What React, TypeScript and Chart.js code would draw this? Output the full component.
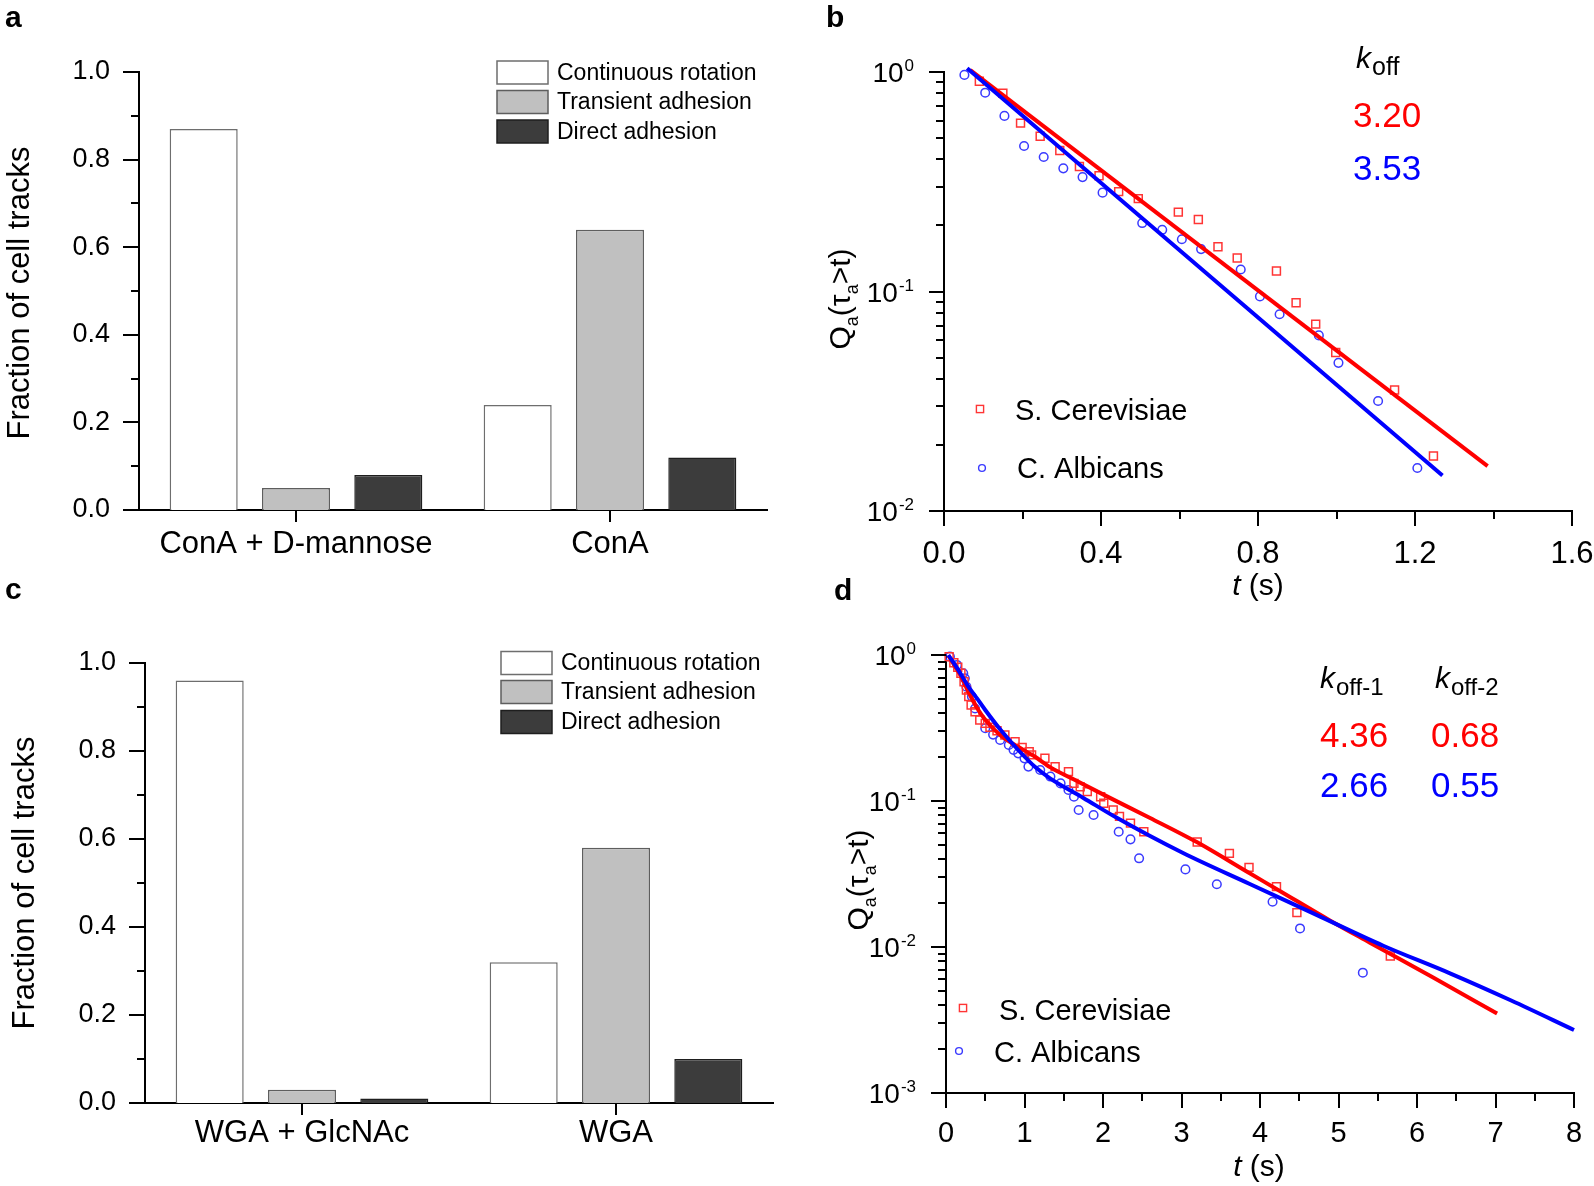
import React, { useEffect, useRef } from "react";
import { Chart, registerables } from "chart.js";

Chart.register(...registerables);

const PAGE_W = 1594;
const PAGE_H = 1186;
const FONT = 'Arial, "Liberation Sans", Helvetica, sans-serif';
const RED = "#ff0000";
const BLUE = "#0000ff";
const RED_PT = "#ff3535";
const BLUE_PT = "#3a3aff";

// ---------- Panel a (ConA) ----------
const categoriesA = ["ConA + D-mannose", "ConA"];
const continuousA = [0.87, 0.24];
const transientA = [0.05, 0.64];
const directA = [0.08, 0.12];

// ---------- Panel c (WGA) ----------
const categoriesC = ["WGA + GlcNAc", "WGA"];
const continuousC = [0.96, 0.32];
const transientC = [0.03, 0.58];
const directC = [0.01, 0.1];

const barLegendLabels = ["Continuous rotation", "Transient adhesion", "Direct adhesion"];
const barMajorTicks = [0, 0.2, 0.4, 0.6, 0.8, 1.0];
const barMinorTicks = [0.1, 0.3, 0.5, 0.7, 0.9];

// ---------- Panel b (single exponential) ----------
const bCerevisiaeT = [0.09, 0.15, 0.195, 0.245, 0.295, 0.345, 0.395, 0.445, 0.495, 0.597, 0.648, 0.698, 0.747, 0.847, 0.897, 0.947, 0.998, 1.148, 1.247];
const bCerevisiaeQ = [0.908, 0.8, 0.585, 0.51, 0.439, 0.371, 0.337, 0.285, 0.265, 0.23, 0.213, 0.16, 0.142, 0.124, 0.0888, 0.071, 0.0527, 0.0356, 0.0178];
const bAlbicansT = [0.052, 0.105, 0.154, 0.204, 0.254, 0.304, 0.353, 0.404, 0.505, 0.556, 0.606, 0.655, 0.756, 0.805, 0.855, 0.955, 1.005, 1.106, 1.206];
const bAlbicansQ = [0.97, 0.805, 0.631, 0.46, 0.41, 0.364, 0.332, 0.282, 0.205, 0.191, 0.173, 0.156, 0.126, 0.095, 0.0788, 0.0631, 0.0473, 0.0317, 0.0157];
const bCerevisiaeFitT = [0.067, 1.385];
const bCerevisiaeFitQ = [1.02, 0.016];
const bAlbicansFitT = [0.059, 1.27];
const bAlbicansFitQ = [1.04, 0.0145];
const bXMajor = [0, 0.4, 0.8, 1.2, 1.6];
const bXMinor = [0.2, 0.6, 1.0, 1.4];
const bYMajor = [1, 0.1, 0.01];
const bKoff = ["3.20", "3.53"];

// ---------- Panel d (double exponential) ----------
const dCerevisiaeT = [0.04, 0.1, 0.15, 0.19, 0.23, 0.26, 0.29, 0.32, 0.37, 0.43, 0.5, 0.56, 0.65, 0.75, 0.88, 0.97, 1.06, 1.09, 1.26, 1.39, 1.56, 1.63, 1.71, 1.8, 1.97, 2.01, 2.13, 2.21, 2.35, 2.52, 3.2, 3.61, 3.86, 4.21, 4.47, 5.66];
const dCerevisiaeQ = [0.974, 0.885, 0.824, 0.749, 0.656, 0.575, 0.519, 0.455, 0.409, 0.359, 0.34, 0.32, 0.303, 0.283, 0.255, 0.233, 0.218, 0.207, 0.196, 0.172, 0.159, 0.132, 0.125, 0.116, 0.107, 0.0965, 0.0868, 0.0785, 0.0705, 0.0616, 0.0524, 0.0438, 0.0351, 0.0259, 0.0172, 0.00867];
const dAlbicansT = [0.05, 0.14, 0.22, 0.24, 0.26, 0.33, 0.37, 0.5, 0.6, 0.69, 0.8, 0.86, 0.92, 1.0, 1.05, 1.2, 1.33, 1.46, 1.56, 1.63, 1.69, 1.88, 2.2, 2.35, 2.46, 3.05, 3.45, 4.16, 4.51, 5.31];
const dAlbicansQ = [0.974, 0.855, 0.75, 0.692, 0.607, 0.519, 0.43, 0.315, 0.285, 0.262, 0.242, 0.224, 0.212, 0.196, 0.172, 0.163, 0.147, 0.132, 0.119, 0.107, 0.0868, 0.0802, 0.0616, 0.0546, 0.0405, 0.034, 0.0269, 0.0204, 0.0134, 0.00667];
const dCerevisiaeFitT = [0.03, 0.12, 0.2, 0.285, 0.4, 0.5, 0.7, 0.92, 1.14, 1.33, 1.6, 2.0, 2.6, 3.2, 3.88, 4.22, 4.89, 5.4, 6.2, 7.02];
const dCerevisiaeFitQ = [0.99, 0.83, 0.7, 0.56, 0.43, 0.36, 0.28, 0.235, 0.2, 0.17, 0.143, 0.111, 0.0765, 0.0521, 0.0317, 0.0248, 0.0152, 0.0107, 0.0062, 0.0035];
const dAlbicansFitT = [0.03, 0.15, 0.285, 0.4, 0.5, 0.71, 0.92, 1.14, 1.325, 1.75, 2.17, 3.02, 3.87, 4.72, 5.57, 6.42, 7.2, 8.0];
const dAlbicansFitQ = [1.0, 0.8, 0.607, 0.5, 0.42, 0.3, 0.2235, 0.17, 0.143, 0.105, 0.077, 0.044, 0.027, 0.0166, 0.0102, 0.0066, 0.0043, 0.0027];
const dXMajor = [0, 1, 2, 3, 4, 5, 6, 7, 8];
const dXMinor = [0.5, 1.5, 2.5, 3.5, 4.5, 5.5, 6.5, 7.5];
const dYMajor = [1, 0.1, 0.01, 0.001];
const dKoff1 = ["4.36", "2.66"];
const dKoff2 = ["0.68", "0.55"];

const speciesLabels = ["S. Cerevisiae", "C. Albicans"];

// ---------- helpers ----------
function logMinors(majors: number[]) {
  const out: number[] = [];
  const sorted = [...majors].sort((a, b) => a - b);
  for (let i = 0; i < sorted.length - 1; i++) {
    for (let m = 2; m <= 9; m++) out.push(sorted[i] * m);
  }
  return out;
}

function xy(ts: number[], qs: number[]) {
  return ts.map((t, i) => ({ x: t, y: qs[i] }));
}

function ticksY(ctx: any, scale: any, axisX: number, values: number[], len: number) {
  ctx.beginPath();
  values.forEach((v) => {
    const y = Math.round(scale.getPixelForValue(v));
    ctx.moveTo(axisX - len, y);
    ctx.lineTo(axisX, y);
  });
  ctx.stroke();
}

function ticksX(ctx: any, scale: any, axisY: number, values: number[], len: number) {
  ctx.beginPath();
  values.forEach((v) => {
    const x = Math.round(scale.getPixelForValue(v));
    ctx.moveTo(x, axisY);
    ctx.lineTo(x, axisY + len);
  });
  ctx.stroke();
}

function powerLabels(ctx: any, scale: any, axisX: number, values: number[], gap: number, size: number, expSize: number) {
  values.forEach((v) => {
    const y = scale.getPixelForValue(v);
    const exp = String(Math.round(Math.log10(v)));
    ctx.font = `${expSize}px ${FONT}`;
    const ew = ctx.measureText(exp).width;
    const right = axisX - gap;
    ctx.textAlign = "left";
    ctx.textBaseline = "alphabetic";
    ctx.fillText(exp, right - ew, y - 1);
    ctx.font = `${size}px ${FONT}`;
    ctx.textAlign = "right";
    ctx.fillText("10", right - ew - 1, y + 10);
  });
}

function drawRotated(ctx: any, text: string, baseX: number, centerY: number, size: number) {
  ctx.save();
  ctx.translate(baseX, centerY);
  ctx.rotate(-Math.PI / 2);
  ctx.font = `${size}px ${FONT}`;
  ctx.textAlign = "center";
  ctx.textBaseline = "alphabetic";
  ctx.fillText(text, 0, 0);
  ctx.restore();
}

function drawQTitle(ctx: any, baseX: number, centerY: number, size: number) {
  const sub = Math.round(size * 0.6);
  const parts: [string, number, number][] = [
    ["Q", size, 0],
    ["a", sub, size * 0.27],
    ["(", size, 0],
    ["\u03c4", size, 0],
    ["a", sub, size * 0.27],
    [">t)", size, 0],
  ];
  ctx.save();
  ctx.translate(baseX, centerY);
  ctx.rotate(-Math.PI / 2);
  ctx.textAlign = "left";
  ctx.textBaseline = "alphabetic";
  const widths = parts.map(([t, s]) => {
    ctx.font = `${s}px ${FONT}`;
    return ctx.measureText(t).width;
  });
  const total = widths.reduce((a, b) => a + b, 0);
  let x = -total / 2;
  parts.forEach(([t, s, dy], i) => {
    ctx.font = `${s}px ${FONT}`;
    ctx.fillText(t, x, dy);
    x += widths[i];
  });
  ctx.restore();
}

function drawTTitle(ctx: any, centerX: number, baseline: number, size: number) {
  ctx.textBaseline = "alphabetic";
  ctx.textAlign = "left";
  ctx.font = `italic ${size}px ${FONT}`;
  const w1 = ctx.measureText("t").width;
  ctx.font = `${size}px ${FONT}`;
  const w2 = ctx.measureText(" (s)").width;
  const x0 = centerX - (w1 + w2) / 2;
  ctx.font = `italic ${size}px ${FONT}`;
  ctx.fillText("t", x0, baseline);
  ctx.font = `${size}px ${FONT}`;
  ctx.fillText(" (s)", x0 + w1, baseline);
}

function drawK(ctx: any, x: number, baseline: number, sub: string, size: number, subSize: number) {
  ctx.textAlign = "left";
  ctx.textBaseline = "alphabetic";
  ctx.fillStyle = "#000";
  ctx.font = `italic ${size}px ${FONT}`;
  const w = ctx.measureText("k").width;
  ctx.fillText("k", x, baseline);
  ctx.font = `${subSize}px ${FONT}`;
  ctx.fillText(sub, x + w + 1, baseline + 7);
}

function drawText(ctx: any, text: string, x: number, baseline: number, size: number, color: string, weight = "") {
  ctx.textAlign = "left";
  ctx.textBaseline = "alphabetic";
  ctx.fillStyle = color;
  ctx.font = `${weight} ${size}px ${FONT}`.trim();
  ctx.fillText(text, x, baseline);
}

function squareMarker(ctx: any, x: number, y: number, half: number, color: string) {
  ctx.strokeStyle = color;
  ctx.lineWidth = 1.4;
  ctx.strokeRect(x - half, y - half, half * 2, half * 2);
}

function circleMarker(ctx: any, x: number, y: number, r: number, color: string) {
  ctx.strokeStyle = color;
  ctx.lineWidth = 1.4;
  ctx.beginPath();
  ctx.arc(x, y, r, 0, Math.PI * 2);
  ctx.stroke();
}

const BAR_STYLES = [
  { bg: "#ffffff", border: "#6e6e6e" },
  { bg: "#c0c0c0", border: "#5e5e5e" },
  { bg: "#3c3c3c", border: "#1e1e1e" },
];

type Area = { left: number; top: number; right: number; bottom: number };

function axisCommon() {
  return {
    grid: { display: false, drawTicks: false },
    border: { display: true, color: "#000", width: 2 },
  };
}

function fitX(area: Area) {
  return (s: any) => {
    s.height = PAGE_H - area.bottom;
    s.paddingLeft = 0;
    s.paddingRight = 0;
  };
}

function fitY(area: Area) {
  return (s: any) => {
    s.width = area.left;
    s.paddingTop = 0;
    s.paddingBottom = 0;
  };
}

function barConfig(cats: string[], cont: number[], trans: number[], direct: number[], area: Area, catPad: number, decor: any) {
  const series = [cont, trans, direct];
  return {
    type: "bar",
    data: {
      labels: cats,
      datasets: series.map((d, i) => ({
        label: barLegendLabels[i],
        data: d,
        backgroundColor: BAR_STYLES[i].bg,
        borderColor: BAR_STYLES[i].border,
        borderWidth: 1.5,
        categoryPercentage: 0.882,
        barPercentage: 0.737,
      })),
    },
    options: {
      responsive: false,
      animation: false,
      devicePixelRatio: 1,
      layout: { padding: { left: 0, top: area.top, right: PAGE_W - area.right, bottom: 0 } },
      plugins: { legend: { display: false }, tooltip: { enabled: false } },
      scales: {
        x: {
          ...axisCommon(),
          ticks: { font: { family: FONT, size: 31 }, color: "#000", padding: catPad, maxRotation: 0, autoSkip: false },
          afterFit: fitX(area),
        },
        y: {
          ...axisCommon(),
          min: 0,
          max: 1,
          afterBuildTicks: (s: any) => {
            s.ticks = barMajorTicks.map((v) => ({ value: v }));
          },
          ticks: {
            font: { family: FONT, size: 27 },
            color: "#000",
            padding: 29,
            callback: (v: any) => Number(v).toFixed(1),
          },
          afterFit: fitY(area),
        },
      },
    },
    plugins: [decor],
  };
}

function barDecor(id: string, letter: string, letterY: number, titleX: number, titleY: number, legendX: number, legendYs: number[]) {
  return {
    id,
    afterDraw(chart: any) {
      const ctx = chart.ctx;
      const { left, bottom } = chart.chartArea;
      const xs = chart.scales.x;
      const ys = chart.scales.y;
      ctx.save();
      ctx.strokeStyle = "#000";
      ctx.lineWidth = 2;
      ticksY(ctx, ys, left, barMajorTicks, 16);
      ticksY(ctx, ys, left, barMinorTicks, 8);
      ticksX(ctx, xs, bottom, [0, 1], 12);
      ctx.fillStyle = "#000";
      drawRotated(ctx, "Fraction of cell tracks", titleX, titleY, 31);
      legendYs.forEach((cy, i) => {
        ctx.fillStyle = BAR_STYLES[i].bg;
        ctx.fillRect(legendX, cy - 11.5, 51, 23);
        ctx.strokeStyle = BAR_STYLES[i].border;
        ctx.lineWidth = 1.5;
        ctx.strokeRect(legendX, cy - 11.5, 51, 23);
        ctx.fillStyle = "#000";
        ctx.font = `23px ${FONT}`;
        ctx.textAlign = "left";
        ctx.textBaseline = "middle";
        ctx.fillText(barLegendLabels[i], legendX + 60, cy + 1);
      });
      drawText(ctx, letter, 5, letterY, 30, "#000", "bold");
      ctx.restore();
    },
  };
}

function survivalConfig(p: any) {
  const area: Area = p.area;
  return {
    type: "line",
    data: {
      datasets: [
        {
          label: speciesLabels[1] + " fit",
          data: xy(p.albFitT, p.albFitQ),
          borderColor: BLUE,
          borderWidth: 4,
          pointRadius: 0,
          showLine: true,
          cubicInterpolationMode: "monotone",
          clip: false,
          order: 0,
        },
        {
          label: speciesLabels[0] + " fit",
          data: xy(p.cerFitT, p.cerFitQ),
          borderColor: RED,
          borderWidth: 4,
          pointRadius: 0,
          showLine: true,
          cubicInterpolationMode: "monotone",
          clip: false,
          order: 1,
        },
        {
          label: speciesLabels[0],
          data: xy(p.cerT, p.cerQ),
          showLine: false,
          pointStyle: "rect",
          pointRadius: 5.6,
          pointBorderWidth: 1.5,
          pointBorderColor: RED_PT,
          pointBackgroundColor: "rgba(0,0,0,0)",
          borderColor: RED_PT,
          clip: false,
          order: 2,
        },
        {
          label: speciesLabels[1],
          data: xy(p.albT, p.albQ),
          showLine: false,
          pointStyle: "circle",
          pointRadius: 4.3,
          pointBorderWidth: 1.5,
          pointBorderColor: BLUE_PT,
          pointBackgroundColor: "rgba(0,0,0,0)",
          borderColor: BLUE_PT,
          clip: false,
          order: 2,
        },
      ],
    },
    options: {
      responsive: false,
      animation: false,
      devicePixelRatio: 1,
      layout: { padding: { left: 0, top: area.top, right: PAGE_W - area.right, bottom: 0 } },
      plugins: { legend: { display: false }, tooltip: { enabled: false } },
      scales: {
        x: {
          type: "linear",
          ...axisCommon(),
          min: p.xMajor[0],
          max: p.xMajor[p.xMajor.length - 1],
          afterBuildTicks: (s: any) => {
            s.ticks = p.xMajor.map((v: number) => ({ value: v }));
          },
          ticks: {
            font: { family: FONT, size: p.xFont },
            color: "#000",
            padding: p.xPad,
            maxRotation: 0,
            autoSkip: false,
            callback: p.xFmt,
          },
          afterFit: fitX(area),
        },
        y: {
          type: "logarithmic",
          ...axisCommon(),
          min: p.yMajor[p.yMajor.length - 1],
          max: p.yMajor[0],
          ticks: { display: false },
          afterFit: fitY(area),
        },
      },
    },
    plugins: [p.decor],
  };
}

function survivalDecor(p: any) {
  return {
    id: p.id,
    afterDraw(chart: any) {
      const ctx = chart.ctx;
      const { left, bottom } = chart.chartArea;
      const xs = chart.scales.x;
      const ys = chart.scales.y;
      ctx.save();
      ctx.strokeStyle = "#000";
      ctx.lineWidth = 2;
      ticksY(ctx, ys, left, p.yMajor, 15);
      ticksY(ctx, ys, left, logMinors(p.yMajor), 8);
      ticksX(ctx, xs, bottom, p.xMajor, 15);
      ticksX(ctx, xs, bottom, p.xMinor, 8);
      ctx.fillStyle = "#000";
      powerLabels(ctx, ys, left, p.yMajor, 30, 28, 17);
      drawQTitle(ctx, p.qX, p.qY, 30);
      drawTTitle(ctx, p.tX, p.tY, 30);
      squareMarker(ctx, p.leg[0][0], p.leg[0][1], 3.6, RED_PT);
      drawText(ctx, speciesLabels[0], p.leg[0][2], p.leg[0][3], 29, "#000");
      circleMarker(ctx, p.leg[1][0], p.leg[1][1], 3.4, BLUE_PT);
      drawText(ctx, speciesLabels[1], p.leg[1][2], p.leg[1][3], 29, "#000");
      p.annot(ctx);
      drawText(ctx, p.letter, p.letterX, p.letterY, 30, "#000", "bold");
      ctx.restore();
    },
  };
}

const areaA: Area = { left: 139, top: 72, right: 767, bottom: 510 };
const areaC: Area = { left: 145, top: 663, right: 773, bottom: 1103 };
const areaB: Area = { left: 944, top: 72, right: 1572, bottom: 511 };
const areaD: Area = { left: 946, top: 655, right: 1574, bottom: 1093 };

export default function App() {
  const refA = useRef<HTMLCanvasElement>(null);
  const refB = useRef<HTMLCanvasElement>(null);
  const refC = useRef<HTMLCanvasElement>(null);
  const refD = useRef<HTMLCanvasElement>(null);

  useEffect(() => {
    const decorA = barDecor("decorA", "a", 27, 29, 293, 497, [72.5, 102, 131.5]);
    const decorC = barDecor("decorC", "c", 599, 34, 883, 501, [663, 692, 722]);

    const decorB = survivalDecor({
      id: "decorB",
      yMajor: bYMajor,
      xMajor: bXMajor,
      xMinor: bXMinor,
      qX: 850,
      qY: 299,
      tX: 1258,
      tY: 595,
      leg: [
        [980, 409, 1015, 420],
        [982, 468, 1017, 478],
      ],
      letter: "b",
      letterX: 826,
      letterY: 27,
      annot: (ctx: any) => {
        drawK(ctx, 1356, 68, "off", 30, 25);
        drawText(ctx, bKoff[0], 1353, 127, 35, RED);
        drawText(ctx, bKoff[1], 1353, 180, 35, BLUE);
      },
    });

    const decorD = survivalDecor({
      id: "decorD",
      yMajor: dYMajor,
      xMajor: dXMajor,
      xMinor: dXMinor,
      qX: 868,
      qY: 880,
      tX: 1259,
      tY: 1176,
      leg: [
        [963, 1008, 999, 1020],
        [959, 1051, 994, 1062],
      ],
      letter: "d",
      letterX: 834,
      letterY: 600,
      annot: (ctx: any) => {
        drawK(ctx, 1320, 688, "off-1", 30, 24);
        drawK(ctx, 1435, 688, "off-2", 30, 24);
        drawText(ctx, dKoff1[0], 1320, 747, 35, RED);
        drawText(ctx, dKoff2[0], 1431, 747, 35, RED);
        drawText(ctx, dKoff1[1], 1320, 797, 35, BLUE);
        drawText(ctx, dKoff2[1], 1431, 797, 35, BLUE);
      },
    });

    const cfgA: any = barConfig(categoriesA, continuousA, transientA, directA, areaA, 16, decorA);
    const cfgC: any = barConfig(categoriesC, continuousC, transientC, directC, areaC, 12, decorC);
    const cfgB: any = survivalConfig({
      area: areaB,
      cerT: bCerevisiaeT,
      cerQ: bCerevisiaeQ,
      albT: bAlbicansT,
      albQ: bAlbicansQ,
      cerFitT: bCerevisiaeFitT,
      cerFitQ: bCerevisiaeFitQ,
      albFitT: bAlbicansFitT,
      albFitQ: bAlbicansFitQ,
      xMajor: bXMajor,
      yMajor: bYMajor,
      xFont: 31,
      xPad: 25,
      xFmt: (v: any) => Number(v).toFixed(1),
      decor: decorB,
    });
    const cfgD: any = survivalConfig({
      area: areaD,
      cerT: dCerevisiaeT,
      cerQ: dCerevisiaeQ,
      albT: dAlbicansT,
      albQ: dAlbicansQ,
      cerFitT: dCerevisiaeFitT,
      cerFitQ: dCerevisiaeFitQ,
      albFitT: dAlbicansFitT,
      albFitQ: dAlbicansFitQ,
      xMajor: dXMajor,
      yMajor: dYMajor,
      xFont: 29,
      xPad: 24,
      xFmt: (v: any) => String(Number(v)),
      decor: decorD,
    });

    const charts = [
      new Chart(refA.current as HTMLCanvasElement, cfgA),
      new Chart(refB.current as HTMLCanvasElement, cfgB),
      new Chart(refC.current as HTMLCanvasElement, cfgC),
      new Chart(refD.current as HTMLCanvasElement, cfgD),
    ];
    return () => charts.forEach((c) => c.destroy());
  }, []);

  const canvasStyle: React.CSSProperties = {
    position: "absolute",
    left: 0,
    top: 0,
    width: PAGE_W,
    height: PAGE_H,
  };

  return (
    <div style={{ position: "absolute", left: 0, top: 0, width: PAGE_W, height: PAGE_H, background: "#fff", overflow: "hidden" }}>
      <canvas ref={refA} width={PAGE_W} height={PAGE_H} style={canvasStyle} />
      <canvas ref={refB} width={PAGE_W} height={PAGE_H} style={canvasStyle} />
      <canvas ref={refC} width={PAGE_W} height={PAGE_H} style={canvasStyle} />
      <canvas ref={refD} width={PAGE_W} height={PAGE_H} style={canvasStyle} />
    </div>
  );
}
